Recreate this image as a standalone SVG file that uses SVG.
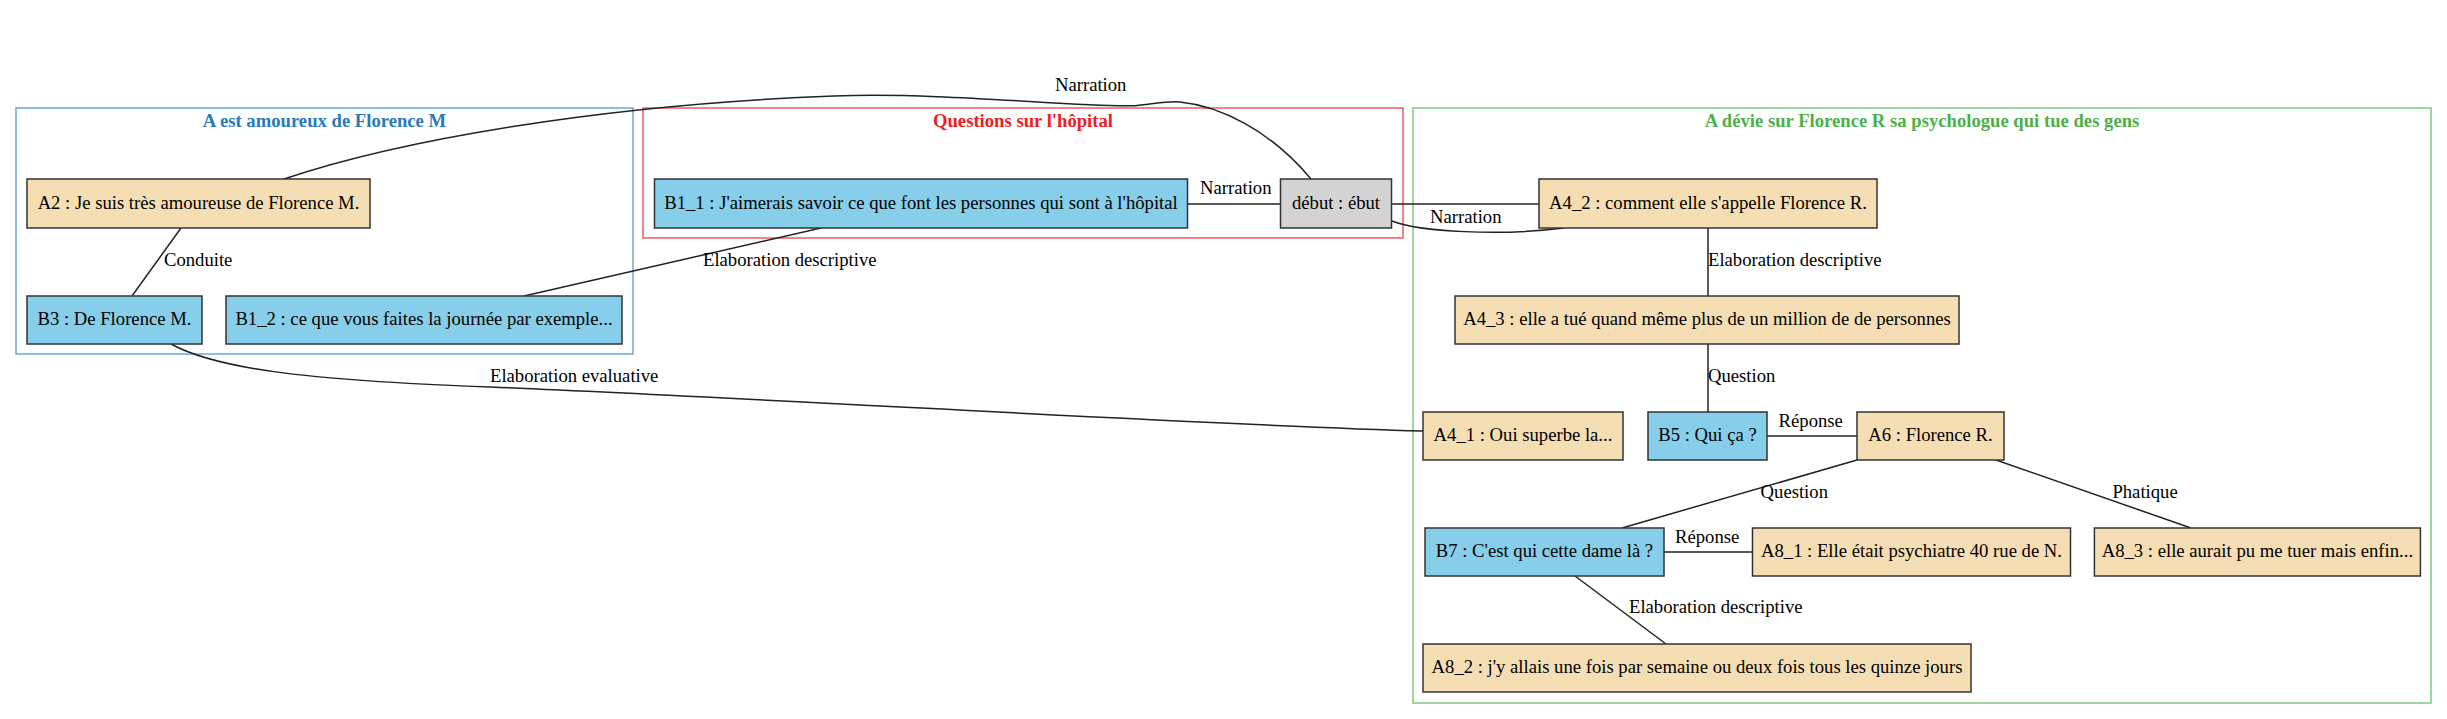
<svg xmlns="http://www.w3.org/2000/svg" width="2447" height="719" viewBox="0 0 2447 719">
<style>
text{font-family:"Liberation Serif","Times New Roman",serif;font-size:18.67px;fill:#000}
.n rect{stroke:#333;stroke-width:1.5}
.n text{text-anchor:middle}
.a rect{fill:#f5deb3}
.b rect{fill:#87ceeb}
.g rect{fill:#d3d3d3}
.cl{fill:none;stroke-width:1.5}
.ct{font-weight:bold;text-anchor:middle}
#edges path{fill:none;stroke:#222;stroke-width:1.5}
</style>
<rect width="2447" height="719" fill="#fff"/>
<g id="cluster_A">
<rect class="cl" x="16" y="108" width="617" height="246" stroke="#6fa7d4"/>
<text class="ct" x="324.5" y="127" fill="#2a7ab9" style="fill:#2a7ab9">A est amoureux de Florence M</text>
</g>
<g id="cluster_Q">
<rect class="cl" x="643" y="108" width="760" height="130" stroke="#ee5b62"/>
<text class="ct" x="1023" y="127" style="fill:#ee1c25">Questions sur l'hôpital</text>
</g>
<g id="cluster_F">
<rect class="cl" x="1413" y="108" width="1018" height="595" stroke="#80c680"/>
<text class="ct" x="1922" y="127" style="fill:#4daf4a">A dévie sur Florence R sa psychologue qui tue des gens</text>
</g>
<g id="edges">
<path d="M181,228 L132,296"/>
<path d="M284,179 C400,140 600,105 834,96 C950,92 1080,108 1135,105.7 C1155,104 1165,101 1180,102 C1220,106 1270,130 1311,179"/>
<path d="M821,228 L524,296"/>
<path d="M1188,204 L1280.5,204"/>
<path d="M1392,204 L1539,204"/>
<path d="M1392,221 C1420,232 1500,236 1564,228"/>
<path d="M1708,228 L1708,296"/>
<path d="M171,344 C215,368 300,380 490,387 C800,400 1200,425 1423,431"/>
<path d="M1708,344 L1708,412"/>
<path d="M1767,436 L1857,436"/>
<path d="M1857,460 L1622,528"/>
<path d="M1996,460 L2191,528"/>
<path d="M1664,552 L1752.5,552"/>
<path d="M1575,576 L1666,644"/>
<text x="1090.7" y="91" text-anchor="middle">Narration</text>
<text x="164" y="266">Conduite</text>
<text x="703" y="266">Elaboration descriptive</text>
<text x="1200" y="194">Narration</text>
<text x="1430" y="222.7">Narration</text>
<text x="1708" y="266">Elaboration descriptive</text>
<text x="490" y="381.7">Elaboration evaluative</text>
<text x="1708" y="381.7">Question</text>
<text x="1778.6" y="426.7">Réponse</text>
<text x="1760.6" y="498.3">Question</text>
<text x="2112.4" y="498">Phatique</text>
<text x="1675" y="542.7">Réponse</text>
<text x="1629" y="613.3">Elaboration descriptive</text>
</g>
<g id="A2" class="n a"><rect x="27" y="179" width="343" height="49"/><text x="198.5" y="208.5">A2 : Je suis très amoureuse de Florence M.</text></g>
<g id="B3" class="n b"><rect x="27" y="296" width="175" height="48"/><text x="114.5" y="325">B3 : De Florence M.</text></g>
<g id="B1_2" class="n b"><rect x="226" y="296" width="396" height="48"/><text x="424" y="325">B1_2 : ce que vous faites la journée par exemple...</text></g>
<g id="B1_1" class="n b"><rect x="654.5" y="179" width="533" height="49"/><text x="921" y="208.5">B1_1 : J'aimerais savoir ce que font les personnes qui sont à l'hôpital</text></g>
<g id="debut" class="n g"><rect x="1280.5" y="179" width="111" height="49"/><text x="1336" y="208.5">début : ébut</text></g>
<g id="A4_2" class="n a"><rect x="1539" y="179" width="338" height="49"/><text x="1708" y="208.5">A4_2 : comment elle s'appelle Florence R.</text></g>
<g id="A4_3" class="n a"><rect x="1455" y="296" width="504" height="48"/><text x="1707" y="325">A4_3 : elle a tué quand même plus de un million de de personnes</text></g>
<g id="A4_1" class="n a"><rect x="1423" y="412" width="200" height="48"/><text x="1523" y="441">A4_1 : Oui superbe la...</text></g>
<g id="B5" class="n b"><rect x="1648" y="412" width="119" height="48"/><text x="1707.5" y="441">B5 : Qui ça ?</text></g>
<g id="A6" class="n a"><rect x="1857" y="412" width="147" height="48"/><text x="1930.5" y="441">A6 : Florence R.</text></g>
<g id="B7" class="n b"><rect x="1425" y="528" width="239" height="48"/><text x="1544.5" y="557">B7 : C'est qui cette dame là ?</text></g>
<g id="A8_1" class="n a"><rect x="1752.5" y="528" width="318" height="48"/><text x="1911.5" y="557">A8_1 : Elle était psychiatre 40 rue de N.</text></g>
<g id="A8_3" class="n a"><rect x="2094.4" y="528" width="326" height="48"/><text x="2257.4" y="557">A8_3 : elle aurait pu me tuer mais enfin...</text></g>
<g id="A8_2" class="n a"><rect x="1423" y="644" width="548" height="48"/><text x="1697" y="673">A8_2 : j'y allais une fois par semaine ou deux fois tous les quinze jours</text></g>
</svg>
